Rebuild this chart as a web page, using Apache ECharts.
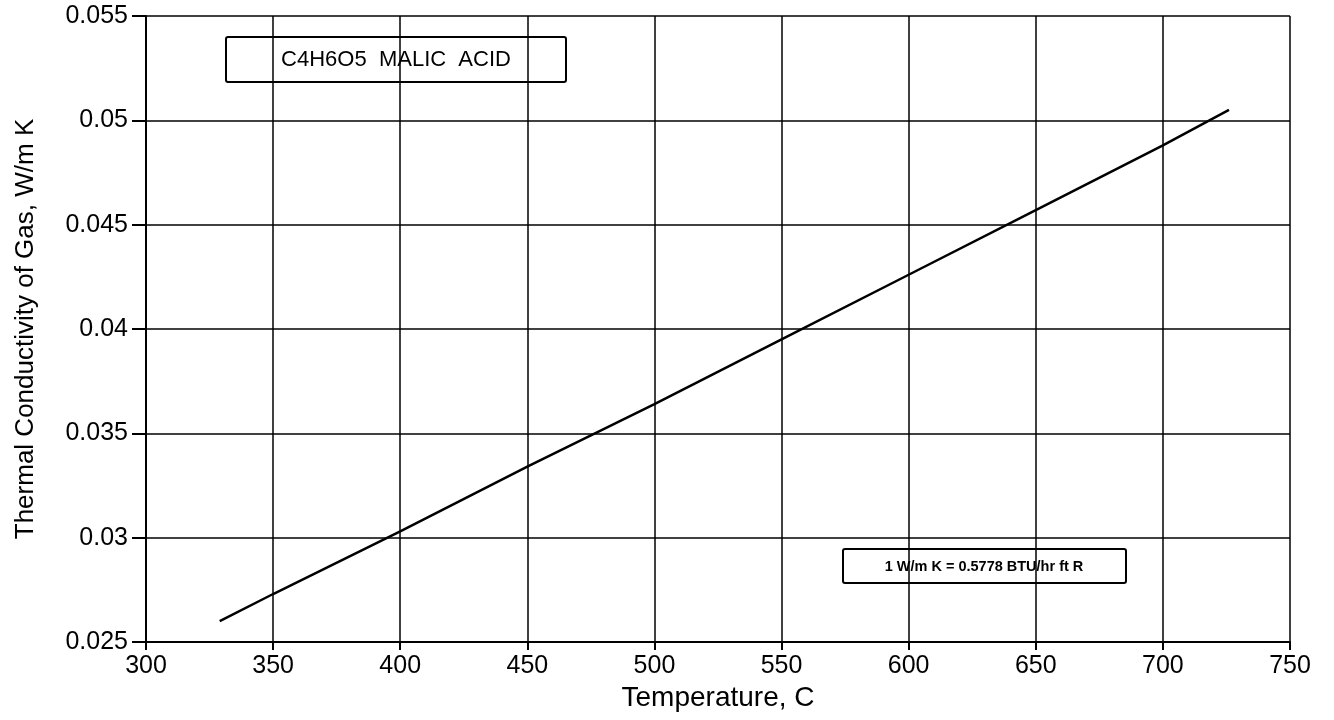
<!DOCTYPE html>
<html style="height: 100%">
   <head>
       <meta charset="utf-8">
   </head>
   <body style="height: 100%; margin: 0; background: #fff">
       <div id="container" style="width: 1334px; height: 720px"></div>
       <script type="text/javascript" src="https://cdn.jsdelivr.net/npm/echarts@6/dist/echarts.min.js"></script>
       <script type="text/javascript">
var dom = document.getElementById("container");
var myChart = echarts.init(dom);

var temperature = [329, 350, 400, 450, 500, 550, 600, 650, 700, 726];
var conductivity = [0.0260, 0.0273, 0.0303, 0.0334, 0.0364, 0.0395, 0.0426, 0.0457, 0.0488, 0.0505];
var compoundLabel = 'C4H6O5  MALIC  ACID';
var unitNote = '1 W/m K = 0.5778 BTU/hr ft R';

var points = temperature.map(function (t, i) { return [t, conductivity[i]]; });
var font = 'Liberation Sans, Arial, sans-serif';

option = {
    backgroundColor: '#fff',
    animation: false,
    grid: {
        left: 146,
        right: 44,
        top: 16,
        bottom: 78
    },
    xAxis: {
        type: 'value',
        min: 300,
        max: 750,
        interval: 50,
        name: 'Temperature, C',
        nameLocation: 'middle',
        nameGap: 41,
        nameTextStyle: {color: '#000', fontSize: 28, fontFamily: font},
        axisLine: {onZero: false, lineStyle: {color: '#000', width: 2}},
        axisTick: {show: true, length: 8, lineStyle: {color: '#000', width: 2}},
        axisLabel: {color: '#000', fontSize: 25, fontFamily: font, margin: 12},
        splitLine: {show: true, lineStyle: {color: '#000', width: 1.5}}
    },
    yAxis: {
        type: 'value',
        min: 0.025,
        max: 0.055,
        interval: 0.005,
        name: 'Thermal Conductivity of Gas, W/m K',
        nameLocation: 'middle',
        nameGap: 107,
        nameTextStyle: {color: '#000', fontSize: 26, fontFamily: font},
        axisLine: {onZero: false, lineStyle: {color: '#000', width: 2}},
        axisTick: {show: true, length: 14, lineStyle: {color: '#000', width: 2}},
        axisLabel: {color: '#000', fontSize: 25, fontFamily: font, margin: 18, padding: [5, 0, 0, 0],
            formatter: function (v) { return String(+v.toFixed(3)); }},
        splitLine: {show: true, lineStyle: {color: '#000', width: 1.5}}
    },
    graphic: [
        {
            type: 'group',
            left: 225,
            top: 36,
            children: [
                {type: 'rect', shape: {x: 0, y: 0, width: 340, height: 45, r: 2},
                    style: {fill: '#fff', stroke: '#000', lineWidth: 2}},
                {type: 'text', style: {x: 170, y: 23, text: compoundLabel, align: 'center', verticalAlign: 'middle',
                    font: '22px ' + font, fill: '#000'}}
            ]
        },
        {
            type: 'group',
            left: 842,
            top: 548,
            children: [
                {type: 'rect', shape: {x: 0, y: 0, width: 283, height: 34, r: 2},
                    style: {fill: '#fff', stroke: '#000', lineWidth: 2}},
                {type: 'text', style: {x: 141, y: 17.5, text: unitNote, align: 'center', verticalAlign: 'middle',
                    font: 'bold 14.5px ' + font, fill: '#000'}}
            ]
        }
    ],
    series: [
        {
            type: 'line',
            data: points,
            showSymbol: false,
            smooth: false,
            lineStyle: {color: '#000', width: 2.5}
        }
    ]
};

if (option && typeof option === "object") {
    myChart.setOption(option, true);
}
       </script>
   </body>
</html>
